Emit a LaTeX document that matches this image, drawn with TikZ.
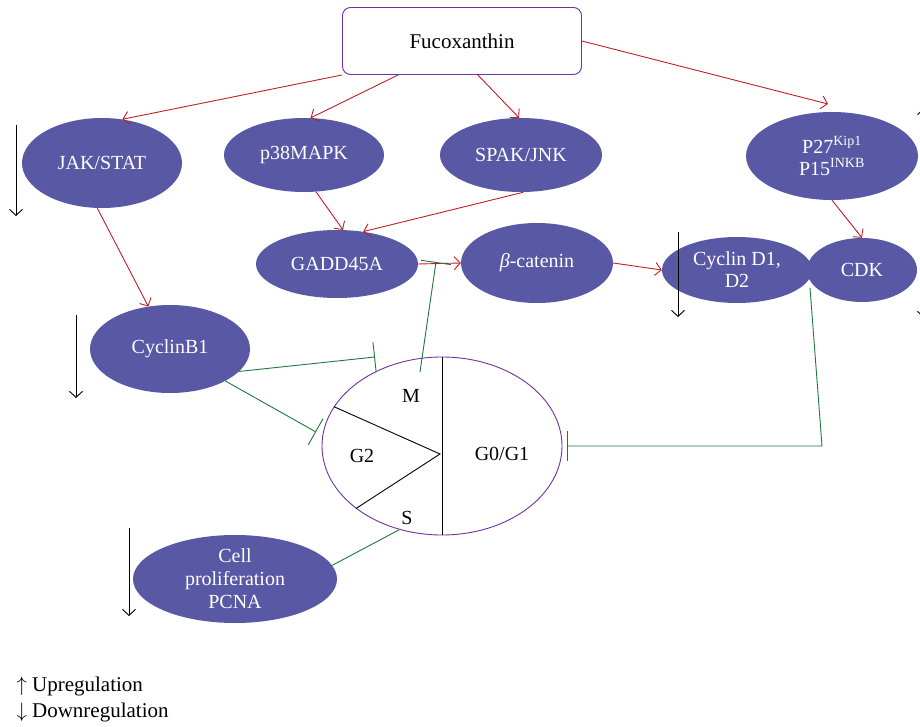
\documentclass[tikz,border=0pt]{standalone}
\usepackage{fontspec}
\setmainfont{Liberation Serif}
\usetikzlibrary{shapes.geometric,arrows.meta,calc}
\definecolor{nodefill}{RGB}{89,88,165}
\definecolor{actred}{RGB}{192,30,40}
\definecolor{inhgreen}{RGB}{30,120,60}
\definecolor{cycpurple}{RGB}{112,48,160}
\tikzset{
  pnode/.style={ellipse, fill=nodefill, text=white, inner sep=0pt, align=center,
    font=\fontsize{20}{22}\selectfont},
  act/.style={draw=actred, line width=0.9pt, -{Straight Barb[length=6pt,width=13pt,line width=0.9pt]}},
  inh/.style={draw=inhgreen, line width=0.9pt, -{Bar[width=30pt,line width=0.9pt]}},
  inhline/.style={draw=inhgreen, line width=0.9pt},
  regarrow/.style={draw=black, line width=0.9pt, -{Straight Barb[length=6pt,width=13pt,line width=0.9pt]}},
  cyctext/.style={font=\fontsize{20}{22}\selectfont},
  legtext/.style={anchor=west, font=\fontsize{21}{23}\selectfont}
}
\begin{document}
\begin{tikzpicture}[x=1pt,y=-1pt]
\useasboundingbox (0,0) rectangle (920,727);

% main nodes
\node[draw=cycpurple, line width=0.9pt, rounded corners=8pt, fill=white, minimum width=239pt, minimum height=67pt,
  font=\fontsize{21}{23}\selectfont] (fuco) at (462,41) {Fucoxanthin};
\node[pnode, minimum width=160pt, minimum height=90pt] (jak) at (102,163) {JAK/STAT};
\node[pnode, minimum width=160pt, minimum height=74pt] (p38) at (304,155) {p38MAPK};
\node[pnode, minimum width=162pt, minimum height=74pt] (spak) at (521,155) {SPAK/JNK};
\node[pnode, minimum width=172pt, minimum height=88pt] (p27) at (832,156)
  {P27\textsuperscript{Kip1}\\P15\textsuperscript{INKB}};
\node[pnode, minimum width=162pt, minimum height=68pt] (gadd) at (337,264) {GADD45A};
\node[pnode, minimum width=152pt, minimum height=80pt] (bcat) at (537,263) {\textit{β}-catenin};
\node[pnode, minimum width=110pt, minimum height=64pt] (cdk) at (862,270) {CDK};
\node[pnode, minimum width=150pt, minimum height=66pt] (cycd) at (737,270) {Cyclin D1,\\D2};
\node[pnode, minimum width=160pt, minimum height=88pt] (cycb) at (170,349) {CyclinB1};
\node[pnode, minimum width=204pt, minimum height=88pt, font=\fontsize{20}{23}\selectfont] (pcna) at (235,579)
  {Cell\\proliferation\\PCNA};

% cell cycle
\node[ellipse, draw=cycpurple, line width=0.9pt, minimum width=240pt, minimum height=178pt, inner sep=0pt] (cyc) at (442,446) {};
\coordinate (apex) at (440,454);
\draw[line width=0.9pt] (cyc.north) -- (cyc.south);
\draw[line width=0.9pt] (cyc.160.6) -- (apex) -- (cyc.216.4);
\node[cyctext] (mlab) at (411,396) {M};
\node[cyctext] (g2lab) at (362,456) {G2};
\node[cyctext] (slab) at (407,518) {S};
\node[cyctext] (g01lab) at (502,454) {G0/G1};

% activation arrows
\coordinate (p27in) at (828,104);
\draw[act] (fuco.south west) -- (jak.65);
\draw[act] (fuco.208) -- (p38.80);
\draw[act] (fuco.295) -- (spak.93);
\draw[act] (fuco.east) -- (p27in);
\draw[act] (jak.264) -- (cycb.117);
\draw[act] (p38.288) -- (gadd.80);
\draw[act] (spak.274) -- (gadd.51);
\draw[act] (gadd.east) -- (bcat.west);
\draw[act] (bcat.east) -- (cycd.west);
\draw[act] (p27.south) -- (cdk.north);

% inhibition lines
\coordinate (mbar) at (375,357);
\coordinate (g2bar) at (316,432);
\coordinate (mstart) at (420,372);
\coordinate (bcatbar) at (436,262);
\coordinate (cdkstart) at (810,288);
\coordinate (cdkturn) at (822,446);
\coordinate (g1bar) at (567,446);
\draw[inh] (cycb.342) -- (mbar);
\draw[inh] (cycb.330) -- (g2bar);
\draw[inh] (mstart) -- (bcatbar);
\draw[inh] (cdkstart) -- (cdkturn) -- (g1bar);
\draw[inhline] (cyc.243) -- (pcna.8);

% regulation arrows
\draw[regarrow] (16,125) -- (16,216);
\draw[regarrow] (76,315) -- (76,398);
\draw[regarrow] (129,528) -- (129,616);
\draw[regarrow] (678,232) -- (678,317);
\draw[regarrow] (924,200) -- (924,108);
\draw[regarrow] (924,230) -- (924,318);

% legend
\node[legtext] (leg1) at (13,686) {$\uparrow$ Upregulation};
\node[legtext] (leg2) at (13,712) {$\downarrow$ Downregulation};
\end{tikzpicture}
\end{document}
